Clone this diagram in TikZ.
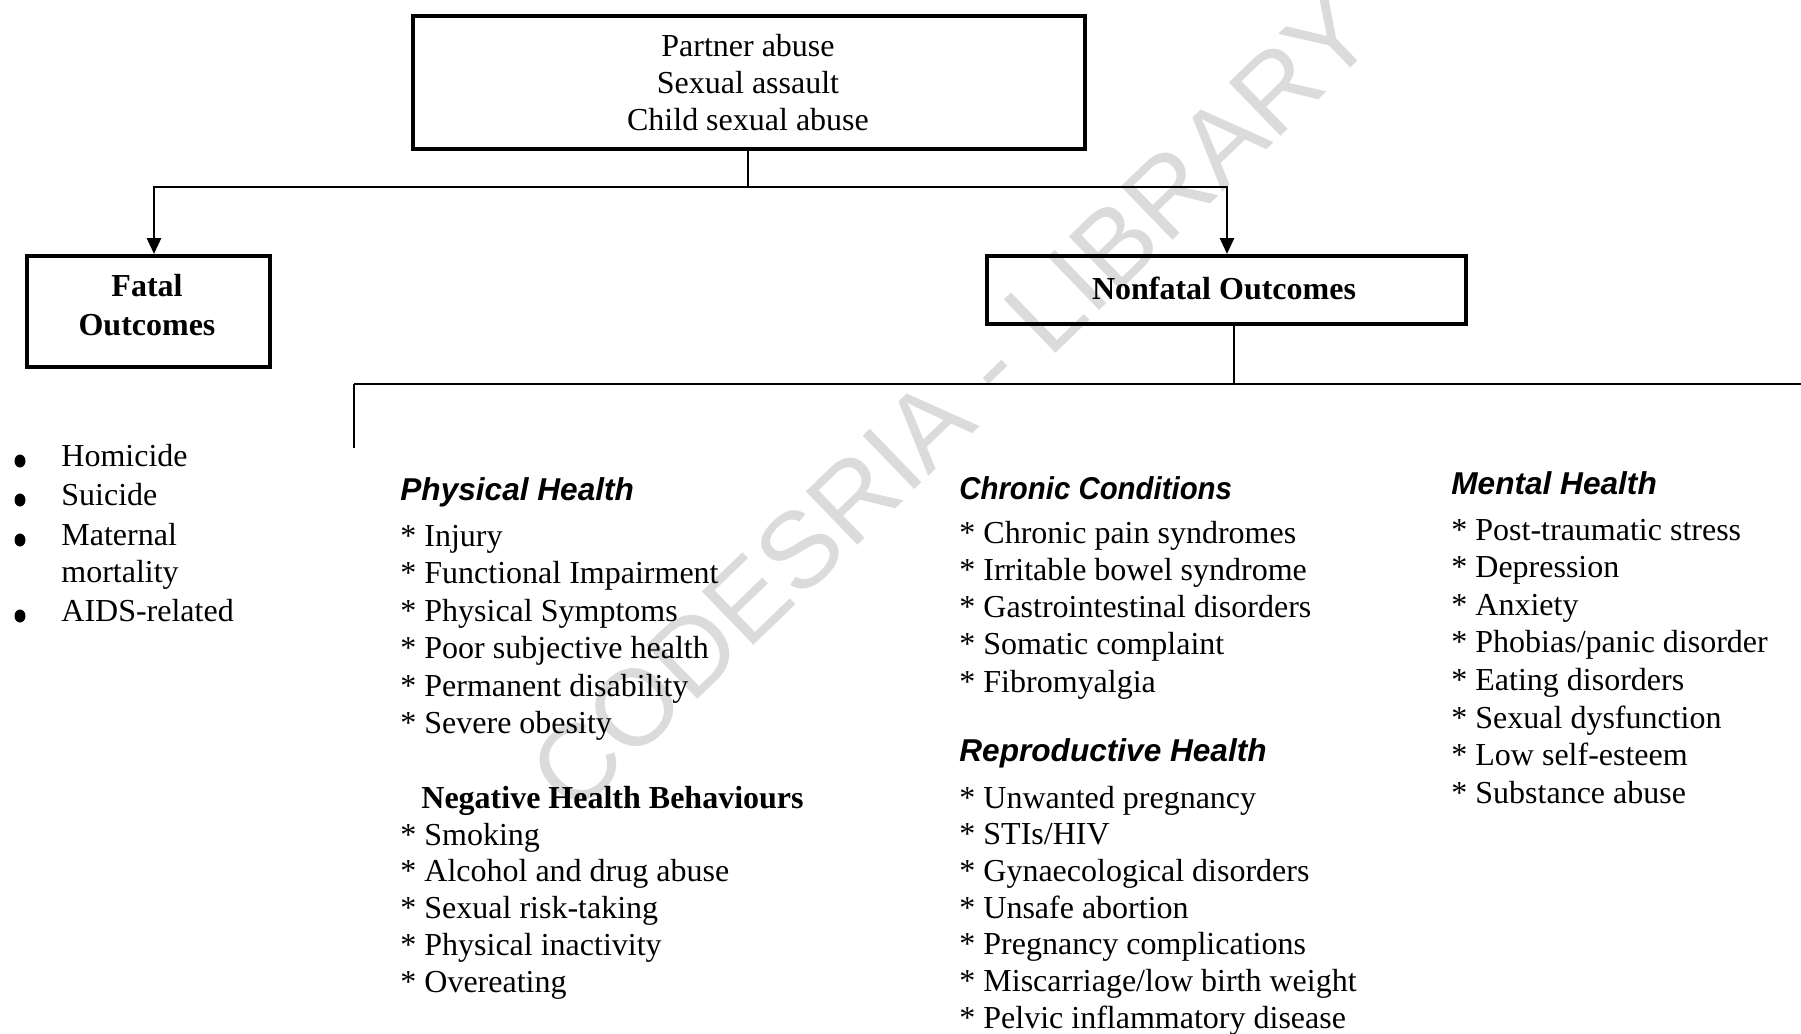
\documentclass[tikz,border=0pt]{standalone}
\usepackage{fontspec}
\setmainfont{Liberation Serif}
\newfontfamily\hsans{Liberation Sans}
\usetikzlibrary{arrows.meta}
\begin{document}
\begin{tikzpicture}[x=0.5pt,y=-0.5pt,
  box/.style={draw,line width=1.8pt,inner sep=0pt},
  conn/.style={line width=1.4pt},
  arr/.style={conn,-{Triangle[length=8pt,width=7pt]}},
  item/.style={anchor=west,inner sep=0pt,font=\fontsize{16}{19}\selectfont,text height=0.7em,text depth=0.2em},
  shead/.style={anchor=west,inner sep=0pt,font=\hsans\bfseries\itshape\fontsize{15.8}{19}\selectfont,text height=0.7em,text depth=0.2em},
  bhead/.style={anchor=west,inner sep=0pt,font=\bfseries\fontsize{16}{19}\selectfont,text height=0.7em,text depth=0.2em},
  wmark/.style={font=\hsans\fontsize{54}{60}\selectfont,text=black!14}
]
\useasboundingbox (0,0) rectangle (1801,1034);
% watermark
\node[wmark,rotate=44] (wm) at (952,402) {CODESRIA - LIBRARY};

% top box
\node[box,minimum width=336pt,minimum height=66.5pt,anchor=north west] (top) at (411,14) {};
\node[align=center,font=\fontsize{16}{18.5}\selectfont,inner sep=0pt] (toptxt) at (748,83) {Partner abuse\\Sexual assault\\Child sexual abuse};

% fatal / nonfatal boxes
\node[box,minimum width=121.5pt,minimum height=55.5pt,anchor=north west] (fatal) at (25,254) {};
\node[align=center,font=\bfseries\fontsize{16}{19.5}\selectfont,inner sep=0pt] (fataltxt) at (147,305) {Fatal\\Outcomes};
\node[box,minimum width=239.5pt,minimum height=34pt,anchor=north west] (nonfatal) at (985,254) {};
\node[font=\bfseries\fontsize{16}{19}\selectfont,inner sep=0pt] (nonfataltxt) at (1224,288) {Nonfatal Outcomes};

% connectors
\coordinate (j1) at (748,187);
\coordinate (j2) at (1234,384);
\coordinate (jl) at (354,384);
\coordinate (jr) at (1801,384);
\coordinate (jd) at (354,448);
\draw[conn] (top.south -| j1) -- (j1);
\draw[arr] (j1) -| (fatal.north -| 154,0);
\draw[arr] (j1) -| (nonfatal.north -| 1227,0);
\draw[conn] (nonfatal.south -| j2) -- (j2);
\draw[conn] (jl) -- (jr);
\draw[conn] (jl) -- (jd);

% fatal list
\node[item] (f1) at (61,461) {Homicide};
\node[item] (f2) at (61,500) {Suicide};
\node[item] (f3) at (61,540) {Maternal};
\node[item] (f3b) at (61,577) {mortality};
\node[item] (f4) at (61,616) {AIDS-related};
\foreach \yy/\nm in {461/b1,500/b2,540/b3,616/b4}{
  \fill (20,\yy) ellipse [x radius=5.5, y radius=6.5] node (\nm) {};
}

% physical health
\node[shead] (ph) at (400,495) {Physical Health};
\foreach \t [count=\i] in {Injury,Functional Impairment,Physical Symptoms,Poor subjective health,Permanent disability,Severe obesity}{
  \node[item] (ph\i) at (400,{541+37.5*(\i-1)}) {* \t};
}
\node[bhead] (nh) at (421,803) {Negative Health Behaviours};
\foreach \t [count=\i] in {Smoking,Alcohol and drug abuse,Sexual risk-taking,Physical inactivity,Overeating}{
  \node[item] (nh\i) at (400,{840+36.8*(\i-1)}) {* \t};
}

% chronic conditions
\node[shead,xscale=0.93] (cc) at (959,494) {Chronic Conditions};
\foreach \t [count=\i] in {Chronic pain syndromes,Irritable bowel syndrome,Gastrointestinal disorders,Somatic complaint,Fibromyalgia}{
  \node[item] (cc\i) at (959,{538+37.3*(\i-1)}) {* \t};
}
\node[shead] (rh) at (959,756) {Reproductive Health};
\foreach \t [count=\i] in {Unwanted pregnancy,STIs/HIV,Gynaecological disorders,Unsafe abortion,Pregnancy complications,Miscarriage/low birth weight,Pelvic inflammatory disease}{
  \node[item] (rh\i) at (959,{803+36.7*(\i-1)}) {* \t};
}

% mental health
\node[shead] (mh) at (1451,489) {Mental Health};
\foreach \t [count=\i] in {Post-traumatic stress,Depression,Anxiety,Phobias/panic disorder,Eating disorders,Sexual dysfunction,Low self-esteem,Substance abuse}{
  \node[item] (mh\i) at (1451,{535+37.6*(\i-1)}) {* \t};
}
\end{tikzpicture}
\end{document}
